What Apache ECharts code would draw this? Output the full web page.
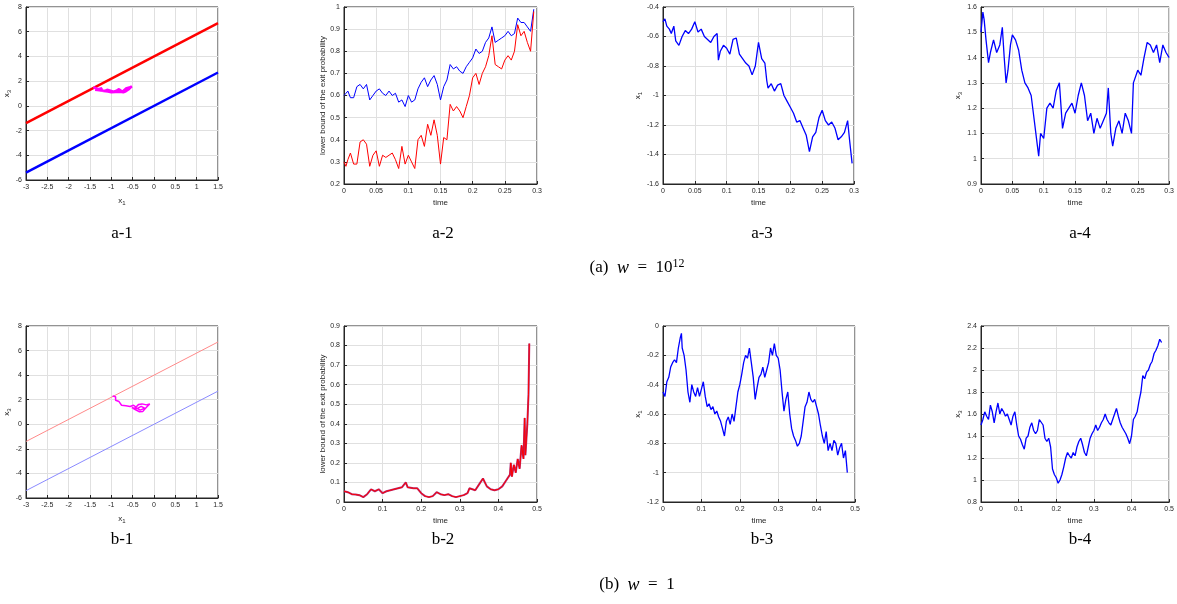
<!DOCTYPE html>
<html>
<head>
<meta charset="utf-8">
<script src="https://cdn.jsdelivr.net/npm/echarts@6/dist/echarts.min.js"></script>
<style>
html, body { margin: 0; padding: 0; background: #fff; }
#chart { width: 1177px; height: 604px; }
</style>
</head>
<body>
<div id="chart"></div>
<script>
// boundary lines in the (x1, x3) plane, given at x1 = -3 and x1 = 1.5
var boundX = [-3, 1.5];
var upperBound = [-1.4, 6.7];
var lowerBound = [-5.4, 2.7];

// a-1 trajectory (magenta)
var a1PathX = [-1.42, -1.35, -1.30, -1.22, -1.25, -1.15, -1.10, -1.00, -0.95, -0.88, -0.82, -0.78, -0.74, -0.70, -0.66, -0.62, -0.58, -0.55, -0.52, -0.50, -0.54, -0.60, -0.66, -0.72, -0.80, -0.90, -1.00, -1.08, -1.18, -1.28, -1.38];
var a1PathY = [1.52, 1.40, 1.35, 1.42, 1.25, 1.22, 1.30, 1.20, 1.15, 1.22, 1.35, 1.22, 1.15, 1.28, 1.40, 1.30, 1.48, 1.38, 1.58, 1.62, 1.50, 1.32, 1.18, 1.10, 1.14, 1.12, 1.10, 1.16, 1.20, 1.26, 1.30];

// b-1 trajectory (magenta)
var b1PathX = [-0.97, -0.90, -0.86, -0.90, -0.82, -0.86, -0.76, -0.66, -0.56, -0.48, -0.42, -0.36, -0.28, -0.18, -0.10, -0.16, -0.22, -0.26, -0.34, -0.44, -0.52, -0.40, -0.30, -0.22, -0.32, -0.45];
var b1PathY = [2.30, 2.25, 2.10, 1.95, 1.85, 1.70, 1.55, 1.50, 1.45, 1.55, 1.40, 1.62, 1.66, 1.58, 1.66, 1.45, 1.22, 1.05, 1.02, 1.20, 1.35, 1.28, 1.46, 1.32, 1.15, 1.40];

// a-2: lower bound of the exit probability
var a2Time = [0, 0.003, 0.006, 0.01, 0.015, 0.02, 0.025, 0.03, 0.035, 0.04, 0.045, 0.05, 0.055, 0.06, 0.065, 0.07, 0.075, 0.08, 0.085, 0.09, 0.095, 0.1, 0.105, 0.11, 0.115, 0.12, 0.125, 0.13, 0.135, 0.14, 0.145, 0.15, 0.155, 0.16, 0.165, 0.17, 0.175, 0.18, 0.185, 0.19, 0.195, 0.2, 0.205, 0.21, 0.215, 0.22, 0.225, 0.23, 0.235, 0.24, 0.245, 0.25, 0.255, 0.26, 0.265, 0.27, 0.275, 0.28, 0.285, 0.29, 0.295];
var a2Blue = [0.60, 0.61, 0.62, 0.59, 0.59, 0.64, 0.65, 0.63, 0.65, 0.58, 0.60, 0.62, 0.63, 0.61, 0.60, 0.62, 0.60, 0.61, 0.57, 0.58, 0.55, 0.60, 0.57, 0.58, 0.63, 0.66, 0.68, 0.64, 0.67, 0.69, 0.65, 0.58, 0.64, 0.67, 0.74, 0.72, 0.73, 0.71, 0.70, 0.73, 0.75, 0.77, 0.81, 0.79, 0.80, 0.84, 0.86, 0.91, 0.84, 0.85, 0.86, 0.87, 0.89, 0.87, 0.88, 0.95, 0.93, 0.93, 0.91, 0.89, 0.99];
var a2Red = [0.30, 0.28, 0.31, 0.34, 0.29, 0.29, 0.39, 0.40, 0.38, 0.28, 0.33, 0.35, 0.28, 0.33, 0.32, 0.33, 0.34, 0.31, 0.27, 0.37, 0.29, 0.33, 0.30, 0.27, 0.40, 0.42, 0.37, 0.47, 0.42, 0.49, 0.42, 0.29, 0.41, 0.40, 0.56, 0.53, 0.55, 0.53, 0.50, 0.55, 0.60, 0.68, 0.70, 0.65, 0.70, 0.73, 0.78, 0.87, 0.74, 0.73, 0.72, 0.76, 0.78, 0.76, 0.80, 0.92, 0.87, 0.89, 0.84, 0.80, 0.98];

// a-3: x1 over time
var a3Time = [0, 0.003, 0.006, 0.01, 0.013, 0.017, 0.02, 0.025, 0.03, 0.035, 0.04, 0.045, 0.05, 0.055, 0.06, 0.065, 0.07, 0.075, 0.08, 0.085, 0.087, 0.09, 0.095, 0.1, 0.105, 0.11, 0.115, 0.12, 0.125, 0.13, 0.135, 0.14, 0.145, 0.15, 0.155, 0.16, 0.163, 0.165, 0.17, 0.175, 0.18, 0.185, 0.19, 0.195, 0.2, 0.205, 0.21, 0.215, 0.22, 0.225, 0.23, 0.235, 0.24, 0.245, 0.25, 0.255, 0.26, 0.265, 0.27, 0.275, 0.28, 0.285, 0.29, 0.293, 0.297];
var a3X1 = [-0.50, -0.48, -0.53, -0.55, -0.58, -0.53, -0.63, -0.66, -0.60, -0.56, -0.58, -0.55, -0.50, -0.57, -0.55, -0.60, -0.62, -0.64, -0.60, -0.58, -0.76, -0.70, -0.66, -0.68, -0.72, -0.62, -0.61, -0.72, -0.75, -0.78, -0.80, -0.86, -0.80, -0.64, -0.75, -0.78, -0.90, -0.95, -0.92, -0.97, -0.93, -0.92, -1.00, -1.04, -1.08, -1.12, -1.18, -1.17, -1.22, -1.27, -1.38, -1.28, -1.25, -1.15, -1.10, -1.17, -1.20, -1.18, -1.22, -1.30, -1.28, -1.25, -1.17, -1.30, -1.46];

// a-4: x3 over time
var a4Time = [0, 0.003, 0.005, 0.008, 0.012, 0.015, 0.02, 0.025, 0.03, 0.034, 0.037, 0.04, 0.043, 0.047, 0.05, 0.055, 0.06, 0.065, 0.07, 0.075, 0.08, 0.085, 0.09, 0.092, 0.095, 0.1, 0.105, 0.11, 0.115, 0.12, 0.125, 0.13, 0.135, 0.14, 0.145, 0.15, 0.155, 0.16, 0.165, 0.17, 0.175, 0.18, 0.185, 0.19, 0.195, 0.2, 0.203, 0.207, 0.21, 0.215, 0.22, 0.225, 0.23, 0.235, 0.24, 0.243, 0.25, 0.255, 0.26, 0.265, 0.27, 0.275, 0.28, 0.285, 0.29, 0.295, 0.3];
var a4X3 = [1.50, 1.58, 1.55, 1.47, 1.38, 1.42, 1.47, 1.42, 1.45, 1.52, 1.40, 1.30, 1.35, 1.45, 1.49, 1.47, 1.43, 1.35, 1.30, 1.28, 1.25, 1.15, 1.05, 1.01, 1.10, 1.08, 1.20, 1.22, 1.20, 1.27, 1.30, 1.12, 1.18, 1.20, 1.22, 1.18, 1.25, 1.30, 1.25, 1.15, 1.18, 1.10, 1.16, 1.12, 1.15, 1.18, 1.28, 1.10, 1.05, 1.12, 1.15, 1.10, 1.18, 1.15, 1.10, 1.30, 1.35, 1.33, 1.40, 1.46, 1.45, 1.42, 1.45, 1.38, 1.45, 1.42, 1.40];

// b-2: lower bound of the exit probability
var b2Time = [0, 0.01, 0.02, 0.03, 0.04, 0.05, 0.06, 0.07, 0.08, 0.09, 0.1, 0.11, 0.12, 0.13, 0.14, 0.15, 0.16, 0.165, 0.18, 0.19, 0.2, 0.21, 0.22, 0.23, 0.24, 0.25, 0.26, 0.27, 0.28, 0.29, 0.3, 0.31, 0.32, 0.325, 0.33, 0.34, 0.35, 0.36, 0.365, 0.37, 0.38, 0.39, 0.4, 0.41, 0.42, 0.43, 0.432, 0.435, 0.44, 0.445, 0.45, 0.455, 0.46, 0.465, 0.468, 0.47, 0.475, 0.478, 0.48];
var b2Prob = [0.055, 0.05, 0.04, 0.038, 0.035, 0.025, 0.04, 0.065, 0.055, 0.065, 0.045, 0.055, 0.06, 0.065, 0.07, 0.075, 0.10, 0.075, 0.07, 0.07, 0.045, 0.03, 0.025, 0.03, 0.05, 0.04, 0.035, 0.04, 0.03, 0.025, 0.03, 0.035, 0.045, 0.07, 0.065, 0.06, 0.09, 0.12, 0.11, 0.08, 0.065, 0.06, 0.065, 0.08, 0.11, 0.14, 0.20, 0.13, 0.19, 0.15, 0.22, 0.17, 0.29, 0.22, 0.43, 0.24, 0.40, 0.55, 0.81];

// b-3: x1 over time
var b3Time = [0, 0.005, 0.01, 0.015, 0.02, 0.025, 0.03, 0.035, 0.04, 0.045, 0.048, 0.05, 0.055, 0.06, 0.065, 0.07, 0.075, 0.08, 0.085, 0.09, 0.095, 0.1, 0.105, 0.11, 0.115, 0.12, 0.125, 0.13, 0.135, 0.14, 0.145, 0.15, 0.155, 0.16, 0.165, 0.17, 0.175, 0.18, 0.185, 0.19, 0.195, 0.2, 0.205, 0.21, 0.215, 0.22, 0.225, 0.23, 0.235, 0.24, 0.245, 0.25, 0.255, 0.26, 0.265, 0.27, 0.275, 0.28, 0.285, 0.29, 0.295, 0.3, 0.305, 0.31, 0.315, 0.32, 0.325, 0.33, 0.335, 0.34, 0.345, 0.35, 0.355, 0.36, 0.365, 0.37, 0.375, 0.38, 0.385, 0.39, 0.395, 0.4, 0.405, 0.41, 0.415, 0.42, 0.425, 0.43, 0.435, 0.44, 0.445, 0.45, 0.455, 0.46, 0.465, 0.47, 0.475, 0.48];
var b3X1 = [-0.45, -0.48, -0.38, -0.35, -0.28, -0.25, -0.23, -0.25, -0.15, -0.08, -0.05, -0.15, -0.20, -0.30, -0.45, -0.52, -0.40, -0.45, -0.48, -0.42, -0.48, -0.43, -0.38, -0.48, -0.55, -0.53, -0.57, -0.55, -0.60, -0.58, -0.62, -0.65, -0.70, -0.75, -0.65, -0.62, -0.67, -0.60, -0.65, -0.55, -0.45, -0.40, -0.33, -0.25, -0.20, -0.22, -0.15, -0.25, -0.35, -0.50, -0.42, -0.35, -0.33, -0.28, -0.35, -0.30, -0.25, -0.15, -0.20, -0.12, -0.20, -0.22, -0.30, -0.45, -0.58, -0.50, -0.45, -0.60, -0.70, -0.75, -0.78, -0.82, -0.80, -0.75, -0.65, -0.55, -0.52, -0.45, -0.50, -0.52, -0.50, -0.55, -0.60, -0.68, -0.75, -0.80, -0.72, -0.85, -0.80, -0.85, -0.78, -0.80, -0.88, -0.83, -0.80, -0.90, -0.85, -1.00];

// b-4: x3 over time
var b4Time = [0, 0.005, 0.01, 0.015, 0.02, 0.025, 0.03, 0.035, 0.04, 0.045, 0.05, 0.055, 0.06, 0.065, 0.07, 0.075, 0.08, 0.085, 0.09, 0.095, 0.1, 0.105, 0.11, 0.115, 0.12, 0.125, 0.13, 0.135, 0.14, 0.145, 0.15, 0.155, 0.16, 0.165, 0.17, 0.175, 0.18, 0.185, 0.19, 0.195, 0.2, 0.205, 0.21, 0.215, 0.22, 0.225, 0.23, 0.235, 0.24, 0.245, 0.25, 0.255, 0.26, 0.265, 0.27, 0.275, 0.28, 0.285, 0.29, 0.295, 0.3, 0.305, 0.31, 0.315, 0.32, 0.325, 0.33, 0.335, 0.34, 0.345, 0.35, 0.355, 0.36, 0.365, 0.37, 0.375, 0.38, 0.385, 0.39, 0.395, 0.4, 0.405, 0.41, 0.415, 0.42, 0.425, 0.43, 0.435, 0.44, 0.445, 0.45, 0.455, 0.46, 0.465, 0.47, 0.475, 0.48];
var b4X3 = [1.50, 1.55, 1.62, 1.58, 1.55, 1.68, 1.62, 1.52, 1.62, 1.70, 1.60, 1.65, 1.62, 1.58, 1.60, 1.55, 1.50, 1.58, 1.62, 1.50, 1.40, 1.37, 1.32, 1.28, 1.38, 1.40, 1.48, 1.52, 1.45, 1.42, 1.45, 1.55, 1.55, 1.50, 1.38, 1.35, 1.38, 1.30, 1.10, 1.05, 1.02, 0.97, 1.00, 1.05, 1.12, 1.20, 1.25, 1.22, 1.20, 1.25, 1.22, 1.30, 1.35, 1.38, 1.32, 1.25, 1.22, 1.30, 1.38, 1.42, 1.45, 1.50, 1.45, 1.48, 1.52, 1.55, 1.60, 1.55, 1.52, 1.50, 1.55, 1.60, 1.65, 1.58, 1.52, 1.48, 1.45, 1.42, 1.38, 1.33, 1.40, 1.55, 1.58, 1.62, 1.72, 1.80, 1.95, 1.92, 1.98, 2.00, 2.05, 2.08, 2.15, 2.18, 2.22, 2.28, 2.25];

function pairs(xs, ys) {
  return xs.map(function (x, i) { return [x, ys[i]]; });
}

var ink = '#262626';
var axisName = { fontSize: 8, color: ink, fontFamily: 'Liberation Sans',
  rich: { s: { fontSize: 6, color: ink, fontFamily: 'Liberation Sans', padding: [5, 0, 0, 0] } } };

var panels = [
  { box: [26, 7, 192, 173], x: [-3, 1.5, 0.5], y: [-6, 8, 2], xName: 'x{s|1}', yName: 'x{s|3}', xGap: 15, yGap: 14 },
  { box: [344, 7, 193, 177], x: [0, 0.3, 0.05], y: [0.2, 1, 0.1], xName: 'time', yName: 'lower bound of the exit probability', xGap: 15, yGap: 15 },
  { box: [663, 7, 191, 177], x: [0, 0.3, 0.05], y: [-1.6, -0.4, 0.2], xName: 'time', yName: 'x{s|1}', xGap: 15, yGap: 19 },
  { box: [981, 7, 191, 177], x: [0, 0.3, 0.05], y: [0.9, 1.6, 0.1], xName: 'time', yName: 'x{s|3}', xGap: 15, yGap: 18 },
  { box: [26, 326, 192, 172], x: [-3, 1.5, 0.5], y: [-6, 8, 2], xName: 'x{s|1}', yName: 'x{s|3}', xGap: 15, yGap: 14 },
  { box: [344, 326, 193, 176], x: [0, 0.5, 0.1], y: [0, 0.9, 0.1], xName: 'time', yName: 'lower bound of the exit probability', xGap: 15, yGap: 15 },
  { box: [663, 326, 192, 176], x: [0, 0.5, 0.1], y: [-1.2, 0, 0.2], xName: 'time', yName: 'x{s|1}', xGap: 15, yGap: 19 },
  { box: [981, 326, 191, 176], x: [0, 0.5, 0.1], y: [0.8, 2.4, 0.2], xName: 'time', yName: 'x{s|3}', xGap: 15, yGap: 18 }
];

var grids = [], xAxes = [], yAxes = [];
panels.forEach(function (p, i) {
  grids.push({ left: p.box[0], top: p.box[1], width: p.box[2], height: p.box[3],
    show: true, borderColor: ink, borderWidth: 1, backgroundColor: '#fff' });
  var common = {
    gridIndex: i, type: 'value', nameLocation: 'middle', nameTextStyle: axisName,
    axisLine: { show: true, onZero: false, lineStyle: { color: ink, width: 1 } },
    axisTick: { show: true, inside: true, length: 3, lineStyle: { color: ink } },
    axisLabel: { fontSize: 7, color: ink, fontFamily: 'Liberation Sans', margin: 4 },
    splitLine: { show: true, lineStyle: { color: '#e0e0e0', width: 1 } }
  };
  xAxes.push(Object.assign({}, common, { min: p.x[0], max: p.x[1], interval: p.x[2], name: p.xName, nameGap: p.xGap }));
  yAxes.push(Object.assign({}, common, { min: p.y[0], max: p.y[1], interval: p.y[2], name: p.yName, nameGap: p.yGap }));
});

function line(i, data, color, width, z) {
  return { type: 'line', xAxisIndex: i, yAxisIndex: i, data: data, showSymbol: false, symbol: 'none',
    lineStyle: { color: color, width: width }, z: z || 2, silent: true };
}

var series = [
  line(0, pairs(boundX, upperBound), '#ff0000', 2.5),
  line(0, pairs(boundX, lowerBound), '#0000ff', 2.5),
  line(0, pairs(a1PathX, a1PathY), '#ff00ff', 2.5, 3),
  line(1, pairs(a2Time, a2Blue), '#0000ff', 1),
  line(1, pairs(a2Time, a2Red), '#ff0000', 1),
  line(2, pairs(a3Time, a3X1), '#0000ff', 1.3),
  line(3, pairs(a4Time, a4X3), '#0000ff', 1.3),
  line(4, pairs(boundX, upperBound), '#ff8a8a', 1),
  line(4, pairs(boundX, lowerBound), '#8a8aff', 1),
  line(4, pairs(b1PathX, b1PathY), '#ff00ff', 1.5, 3),
  line(5, pairs(b2Time, b2Prob), '#b0307a', 2),
  line(5, pairs(b2Time, b2Prob), '#ff0000', 1, 3),
  line(6, pairs(b3Time, b3X1), '#0000ff', 1.3),
  line(7, pairs(b4Time, b4X3), '#0000ff', 1.3)
];

var serif = 'Liberation Serif';
function caption(text, x, y) {
  return { type: 'text', x: x, y: y, style: { text: text, fontFamily: serif, fontSize: 17, fill: '#000',
    align: 'center', verticalAlign: 'middle',
    rich: {
      i: { fontFamily: serif, fontStyle: 'italic', fontSize: 18, fill: '#000' },
      sup: { fontFamily: serif, fontSize: 12, fill: '#000', padding: [0, 0, 9, 0] }
    } } };
}

var graphics = [
  caption('a-1', 122, 234), caption('a-2', 443, 234), caption('a-3', 762, 234), caption('a-4', 1080, 234),
  caption('(a)  {i|w}  =  10{sup|12}', 637, 268),
  caption('b-1', 122, 540), caption('b-2', 443, 540), caption('b-3', 762, 540), caption('b-4', 1080, 540),
  caption('(b)  {i|w}  =  1', 637, 585)
];

var chart = echarts.init(document.getElementById('chart'));
chart.setOption({
  animation: false,
  backgroundColor: '#fff',
  grid: grids,
  xAxis: xAxes,
  yAxis: yAxes,
  series: series,
  graphic: graphics
});
</script>
</body>
</html>
